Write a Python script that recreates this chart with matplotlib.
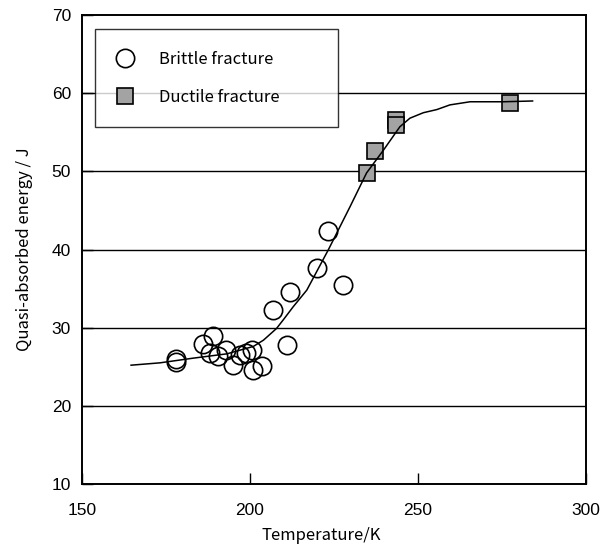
import numpy as np
import matplotlib
matplotlib.use("Agg")
import matplotlib.pyplot as plt

# brittle fracture points (temperature K, energy J)
brittle_T = [177.9, 177.9, 189.1, 185.9, 188.1, 190.6, 192.8, 194.8, 197.0,
             198.8, 200.5, 200.8, 203.5, 210.9, 206.9, 211.9, 223.1, 219.8, 227.8]
brittle_E = [26.0, 25.6, 28.9, 27.9, 26.7, 26.4, 27.1, 25.2, 26.5,
             26.8, 27.2, 24.6, 25.1, 27.8, 32.3, 34.5, 42.4, 37.6, 35.4]

# ductile fracture points
ductile_T = [234.9, 237.2, 243.4, 243.4, 277.4]
ductile_E = [49.8, 52.6, 56.6, 55.9, 58.8]

# fitted transition curve
curve_T = [164.6, 173.2, 183.1, 193.1, 201.0, 204.0, 207.9, 209.9, 212.9, 216.9,
           223.3, 229.8, 234.7, 239.7, 244.6, 247.6, 251.6, 255.6, 259.5, 265.5,
           275.4, 284.1]
curve_E = [25.2, 25.5, 26.1, 26.65, 27.6, 28.4, 29.9, 31.0, 32.7, 34.8,
           39.95, 45.5, 49.8, 52.7, 55.7, 56.8, 57.5, 57.9, 58.5, 58.9,
           58.9, 59.0]

W, H = 606, 549
fig = plt.figure(figsize=(W / 100, H / 100), dpi=100)
ax = fig.add_axes([82 / W, 1 - 484 / H, (586 - 82) / W, (484 - 15) / H])

label_font = ["Noto Sans CJK JP", "DejaVu Sans"]
tick_font = "Liberation Sans"

for yv in [20, 30, 40, 50, 60]:
    ax.axhline(yv, color="black", lw=1.0, zorder=1)

ax.plot(brittle_T, brittle_E, "o", ms=13.2, mfc="none", mec="black", mew=1.2,
        zorder=3, label="Brittle fracture")
ax.plot(ductile_T, ductile_E, "s", ms=11.5, mfc="#a3a3a3", mec="black", mew=1.2,
        zorder=3, label="Ductile fracture")
ax.plot(curve_T, curve_E, "-", color="black", lw=1.1, zorder=4)

ax.set_xlim(150, 300)
ax.set_ylim(10, 70)
ax.set_xticks([150, 200, 250, 300])
ax.set_yticks([10, 20, 30, 40, 50, 60, 70])
ax.tick_params(direction="in", length=8, width=1, labelsize=12.5, pad=8)
ax.tick_params(axis="x", pad=14)
for lab in ax.get_xticklabels() + ax.get_yticklabels():
    lab.set_fontfamily(tick_font)
for s in ax.spines.values():
    s.set_linewidth(1.4)

ax.set_xlabel("Temperature/K", fontsize=12, family=label_font, va="center")
ax.xaxis.set_label_coords((321 - 82) / 504, -(536 - 484) / 469)
ax.set_ylabel("Quasi-absorbed energy / J", fontsize=12, family=label_font, va="center")
ax.yaxis.set_label_coords(-(82 - 25) / 504, 0.5)

leg = ax.legend(loc="upper left", mode="expand",
                bbox_to_anchor=(95 / W, 1 - 29 / H, 243 / W, 0),
                bbox_transform=fig.transFigure,
                prop={"family": label_font, "size": 12},
                frameon=True, fancybox=False, edgecolor="black",
                borderpad=1.3, labelspacing=1.25, handlelength=0.95,
                handletextpad=1.6, borderaxespad=0)
leg.get_frame().set_linewidth(1.0)
leg.set_zorder(5)

fig.savefig("out.png", dpi=100)
